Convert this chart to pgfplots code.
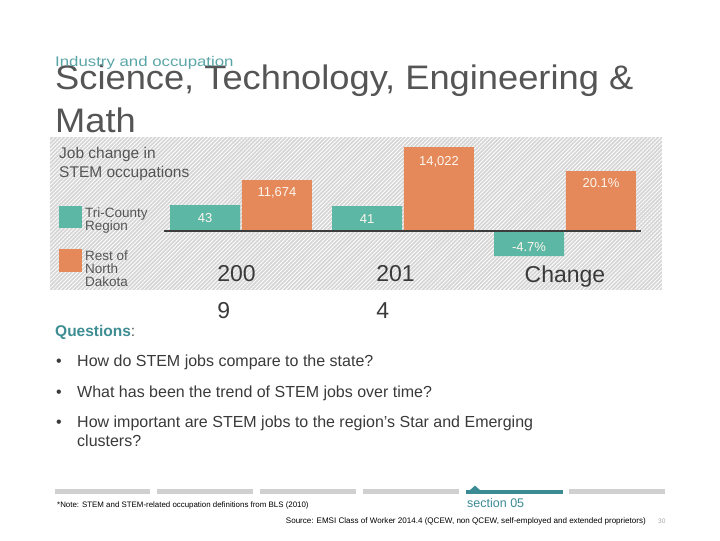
\documentclass[border=0pt]{standalone}
\usepackage{pgfplots}
\pgfplotsset{compat=1.18}
\usepackage{fontspec}
\setmainfont{Liberation Sans}
\usetikzlibrary{patterns.meta}
\definecolor{barteal}{HTML}{5CB8A5}
\definecolor{barorange}{HTML}{E6895A}
\definecolor{titlegray}{HTML}{555555}
\definecolor{textgray}{HTML}{3A3A3A}
\definecolor{lightteal}{HTML}{5AA5A8}
\definecolor{qteal}{HTML}{3F8E93}
\definecolor{secteal}{HTML}{3B8B95}
\definecolor{seggray}{HTML}{D0D0D0}
\definecolor{bggray}{HTML}{D6D6D6}
\definecolor{basegray}{HTML}{3C3C3C}
\definecolor{labelwhite}{HTML}{FDF6EE}
\newcommand\fs[2]{\fontsize{#1bp}{#2bp}\selectfont}
\begin{document}
\begin{tikzpicture}
\begin{scope}[x=1bp,y=-1bp]
\fill[white] (0,0) rectangle (720,540);
% hatched chart background
\fill[bggray] (50,137) rectangle (662,290);
\fill[pattern={Lines[angle=45,distance=2.8bp,line width=0.8bp]}, pattern color=white] (50,137) rectangle (662,290);
% header
\node[anchor=base west, inner sep=0pt, font=\fs{34}{43}, text=titlegray] at (55,89) {\scalebox{1.067}[1]{Science, Technology, Engineering \&}};
\node[anchor=base west, inner sep=0pt, font=\fs{34}{43}, text=titlegray] at (55,132) {\scalebox{1.067}[1]{Math}};
\node[anchor=base west, inner sep=0pt, font=\fs{14}{16}, text=lightteal] at (55,66) {\scalebox{1.2}[1]{Industry and occupation}};
% chart title and legend
\node[anchor=base west, inner sep=0pt, font=\fs{15.5}{18.5}, text=titlegray] at (59,158.5) {Job change in};
\node[anchor=base west, inner sep=0pt, font=\fs{15.5}{18.5}, text=titlegray] at (59,177) {STEM occupations};
\fill[barteal] (59,206) rectangle (82,228);
\fill[barorange] (59,249) rectangle (82,272);
\node[anchor=base west, inner sep=0pt, font=\fs{13.5}{12}, text=titlegray] at (85,217) {Tri-County};
\node[anchor=base west, inner sep=0pt, font=\fs{13.5}{12}, text=titlegray] at (85,230) {Region};
\node[anchor=base west, inner sep=0pt, font=\fs{13.5}{12}, text=titlegray] at (85,260) {Rest of};
\node[anchor=base west, inner sep=0pt, font=\fs{13.5}{12}, text=titlegray] at (85,273) {North};
\node[anchor=base west, inner sep=0pt, font=\fs{13.5}{12}, text=titlegray] at (85,286) {Dakota};
% questions
\node[anchor=base west, inner sep=0pt, font=\fs{15.5}{18}] at (55,336.5) {\textcolor{qteal}{\bfseries Questions}\textcolor{titlegray}{:}};
\foreach \yy/\tt in {366.5/How do STEM jobs compare to the state?, 397/What has been the trend of STEM jobs over time?, 427/How important are STEM jobs to the region's Star and Emerging}{
  \node[anchor=base west, inner sep=0pt, font=\fs{16}{19}, text=textgray] at (56,\yy) {\textbullet};
  \node[anchor=base west, inner sep=0pt, font=\fs{16}{19}, text=textgray] at (77,\yy) {\tt};
}
\node[anchor=base west, inner sep=0pt, font=\fs{16}{19}, text=textgray] at (77,446.5) {clusters?};
% footer segments
\foreach \xa/\xb in {55/150, 157/253, 260/356, 363/459, 569/665}{
  \fill[seggray] (\xa,489) rectangle (\xb,494);
}
\fill[secteal] (466,489.5) rectangle (562.5,494);
\fill[secteal] (470,490) -- (475,485.5) -- (480,490) -- cycle;
\node[anchor=base west, inner sep=0pt, font=\fs{12.5}{14}, text=secteal] at (467,507) {section 05};
\node[anchor=base west, inner sep=0pt, font=\fs{7.9}{9}, text=black] at (57,507.5) {*Note: STEM and STEM-related occupation definitions from BLS (2010)};
\node[anchor=base east, inner sep=0pt, font=\fs{8.05}{9}, text=black] at (646,523) {Source: EMSI Class of Worker 2014.4 (QCEW, non QCEW, self-employed and extended proprietors)};
\node[anchor=base west, inner sep=0pt, font=\fs{6.5}{8}, text=black!35] at (658,523) {30};
\end{scope}
% bar chart: heights are drawn proportions (px above baseline); labels carry actual values
\begin{axis}[
  at={(0bp,-262bp)}, anchor=south west,
  width=720bp, height=262bp, scale only axis,
  xmin=-1.48765, xmax=2.95679, ymin=-31, ymax=231,
  enlargelimits=false, clip=false,
  axis line style={draw=none}, major tick length=0pt,
  ytick=\empty,
  xtick={-0.028,0.954,2},
  xticklabels={{200\\9},{201\\4},{Change}},
  xticklabel style={align=left, font=\fs{23}{37}, text=textgray, anchor=north, inner sep=0pt, yshift=-3.5bp},
  ybar, bar width=0.432,
]
\addplot[fill=barteal, draw=none, bar shift=-0.222] coordinates {(0,26) (1,25) (2,-25)};
\addplot[fill=barorange, draw=none, bar shift=0.222] coordinates {(0,51) (1,84) (2,60)};
\draw[line width=2.2bp, basegray] (axis cs:-0.475,0) -- (axis cs:2.469,0);
\begin{scope}[every node/.style={font=\fs{13}{15}, text=labelwhite, anchor=center, inner sep=0pt}]
\node at (axis cs:-0.222,13) {43};
\node at (axis cs:0.222,38) {11,674};
\node at (axis cs:0.778,12) {41};
\node at (axis cs:1.222,69) {14,022};
\node at (axis cs:1.778,-16) {-4.7\%};
\node at (axis cs:2.222,48) {20.1\%};
\end{scope}
\end{axis}
\end{tikzpicture}
\end{document}
